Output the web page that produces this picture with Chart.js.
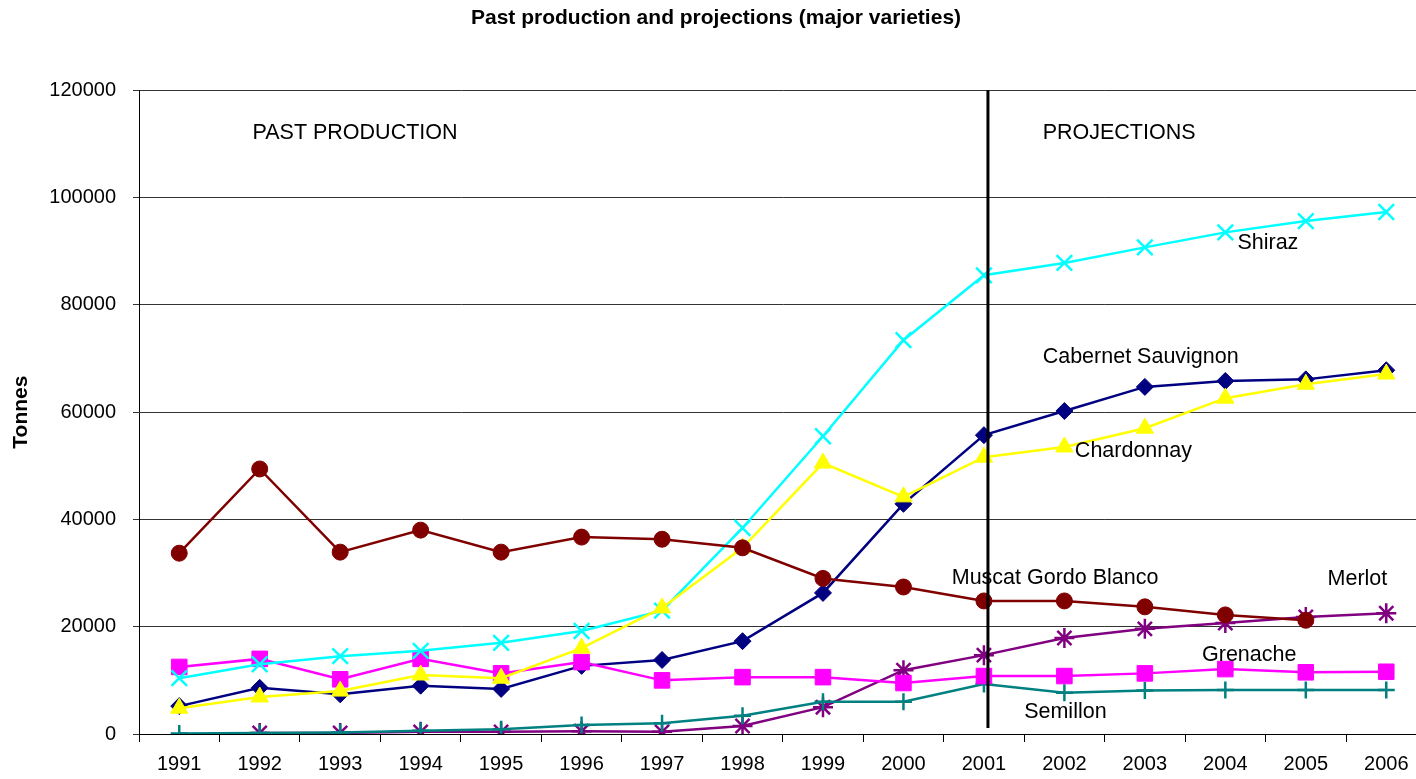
<!DOCTYPE html>
<html>
<head>
<meta charset="utf-8">
<script src="https://cdn.jsdelivr.net/npm/chart.js@4/dist/chart.umd.min.js"></script>
<style>
html, body { margin:0; padding:0; background:#fff; overflow:hidden; width:1416px; height:779px; }
#wrap { width:1440px; height:779px; }
</style>
</head>
<body>
<div id="wrap"><canvas id="c" width="1440" height="779"></canvas></div>
<script>
const years = ['1991','1992','1993','1994','1995','1996','1997','1998','1999','2000','2001','2002','2003','2004','2005','2006'];
const shiraz     = [10400, 13000, 14500, 15500, 17000, 19200, 23000, 38400, 55500, 73400, 85500, 87800, 90700, 93500, 95600, 97300];
const cabernet   = [5200, 8600, 7400, 9000, 8400, 12700, 13800, 17300, 26300, 42900, 55700, 60200, 64700, 65800, 66100, 67800];
const chardonnay = [4800, 6900, 8000, 11000, 10400, 16000, 23500, 34700, 50500, 44200, 51600, 53500, 57000, 62600, 65200, 67100];
const muscat     = [33700, 49400, 33900, 38000, 33900, 36700, 36300, 34700, 29000, 27400, 24800, 24800, 23700, 22200, 21200, null];
const grenache   = [12500, 14000, 10200, 14000, 11300, 13400, 10000, 10600, 10600, 9500, 10800, 10800, 11300, 12100, 11500, 11600];
const semillon   = [100, 200, 300, 600, 900, 1700, 2000, 3400, 6000, 6000, 9300, 7700, 8100, 8200, 8200, 8200];
const merlot     = [null, 200, 200, 400, 400, 500, 400, 1500, 5000, 11900, 14700, 17900, 19600, 20700, 21800, 22500];
const yTicks = [0, 20000, 40000, 60000, 80000, 100000, 120000];

// text labels: [text, category position (fractional index), value]
const notes = [
  ['PAST PRODUCTION', 0.91, 112000],
  ['PROJECTIONS', 10.73, 112000],
  ['Shiraz', 13.15, 91500],
  ['Cabernet Sauvignon', 10.73, 70250],
  ['Chardonnay', 11.13, 52700],
  ['Muscat Gordo Blanco', 9.60, 29000],
  ['Merlot', 14.27, 28900],
  ['Grenache', 12.71, 14700],
  ['Semillon', 10.50, 4100]
];
const divider = { pos: 10.05, from: 120000, to: 1100 };

const FONT = '"Liberation Sans", Arial, sans-serif';

const notesPlugin = {
  id: 'notes',
  afterDatasetsDraw(chart) {
    const ctx = chart.ctx;
    const xs = chart.scales.x, ys = chart.scales.y;
    const step = xs.getPixelForValue(1) - xs.getPixelForValue(0);
    const x0 = xs.getPixelForValue(0);
    ctx.save();
    ctx.fillStyle = '#000';
    ctx.font = '21.5px ' + FONT;
    ctx.textAlign = 'left';
    ctx.textBaseline = 'middle';
    notes.forEach(n => {
      ctx.fillText(n[0], x0 + n[1] * step, ys.getPixelForValue(n[2]));
    });
    const lx = x0 + divider.pos * step;
    ctx.strokeStyle = '#000';
    ctx.lineWidth = 3;
    ctx.beginPath();
    ctx.moveTo(lx, ys.getPixelForValue(divider.from));
    ctx.lineTo(lx, ys.getPixelForValue(divider.to));
    ctx.stroke();
    ctx.restore();
  }
};

function ds(label, data, color, style, radius, bw) {
  return {
    label, data,
    borderColor: color, backgroundColor: color,
    pointBackgroundColor: color, pointBorderColor: color,
    pointStyle: style, pointRadius: radius, pointBorderWidth: bw,
    borderWidth: 2.5, tension: 0, spanGaps: false
  };
}

new Chart(document.getElementById('c'), {
  type: 'line',
  data: {
    labels: years,
    datasets: [
      ds('Muscat Gordo Blanco', muscat, '#800000', 'circle', 8, 1),
      ds('Chardonnay', chardonnay, '#FFFF00', 'triangle', 10, 1),
      ds('Shiraz', shiraz, '#00FFFF', 'crossRot', 11, 2.5),
      ds('Grenache', grenache, '#FF00FF', 'rect', 11, 1),
      ds('Cabernet Sauvignon', cabernet, '#000080', 'rectRot', 8.5, 1),
      ds('Semillon', semillon, '#008080', 'cross', 8.5, 2.5),
      ds('Merlot', merlot, '#800080', 'star', 10, 2.5)
    ]
  },
  options: {
    responsive: false,
    animation: false,
    events: [],
    layout: { padding: { left: 4, right: 12, top: 0, bottom: 3 } },
    plugins: {
      legend: { display: false },
      tooltip: { enabled: false },
      title: {
        display: true,
        text: 'Past production and projections (major varieties)',
        color: '#000',
        font: { family: FONT, size: 21, weight: 'bold' },
        padding: { top: 6, bottom: 59 }
      }
    },
    scales: {
      x: {
        offset: true,
        afterFit(axis) { axis.height = 42; },
        border: { display: true, color: '#000', width: 1 },
        grid: { offset: true, drawOnChartArea: false, drawTicks: true, tickLength: 8, color: '#000' },
        ticks: { color: '#000', font: { family: FONT, size: 20 }, padding: 10, maxRotation: 0, autoSkip: false }
      },
      y: {
        min: 0, max: 120000,
        afterBuildTicks(axis) { axis.ticks = yTicks.map(v => ({ value: v })); },
        afterFit(axis) { axis.width = 135; },
        border: { display: true, color: '#000', width: 1 },
        grid: { color: '#333', lineWidth: 1, drawTicks: true, tickLength: 6, tickColor: '#333' },
        ticks: { color: '#000', font: { family: FONT, size: 20 }, padding: 17, callback: v => String(v) },
        title: {
          display: true, text: 'Tonnes', color: '#000',
          font: { family: FONT, size: 21, weight: 'bold' },
          padding: { top: 5, bottom: 0 }
        }
      }
    }
  },
  plugins: [notesPlugin]
});
</script>
</body>
</html>
